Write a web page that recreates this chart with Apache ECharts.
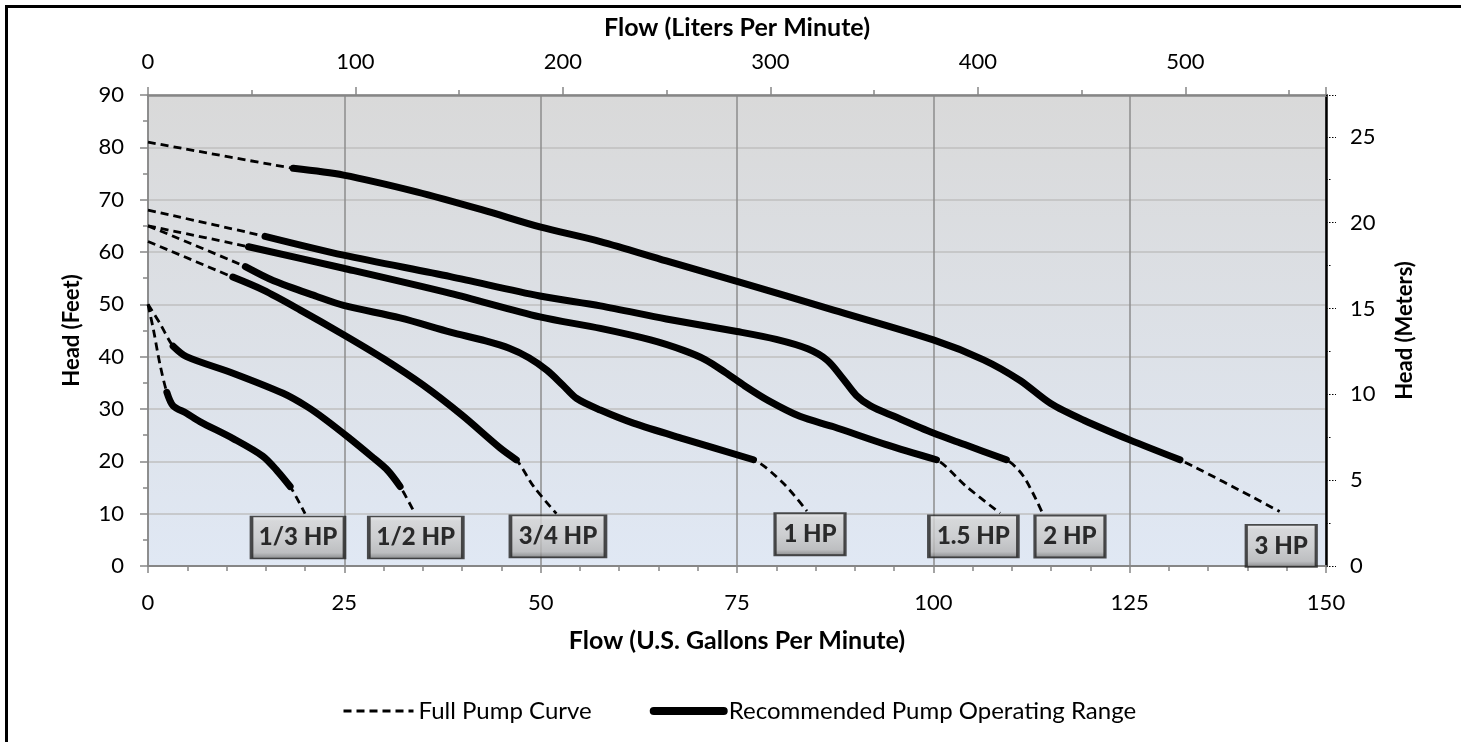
<!DOCTYPE html>
<html>
<head>
<meta charset="utf-8">
<script src="https://cdn.jsdelivr.net/npm/echarts@6/dist/echarts.min.js"></script>
<style>
html,body{margin:0;padding:0;background:#fff;overflow:hidden;}
#chart{width:1461px;height:742px;}
</style>
</head>
<body>
<div id="chart"></div>
<script>
// ---------- DATA (flow in US gpm, head in feet) ----------
const hp13 = [[0,50],[0.7,45.1],[1.5,38.7],[2.4,33.2],[3.2,30.6],[4.9,29.2],[6.6,27.6],[10.9,24.3],[14.6,21.0],[16.5,18.1],[18.1,15.2],[20.0,10.0]];
const hp13Range = [2.4, 18.1];
const hp12 = [[0,50],[1.5,46.4],[3.2,42.0],[4.9,40.0],[10.9,36.8],[17.2,33.0],[20.2,30.5],[22.5,28.1],[25.5,24.6],[28.5,20.9],[30.5,18.3],[32.1,15.2],[34.0,10.0]];
const hp12Range = [3.2, 32.1];
const hp34 = [[0,62],[10.8,55.2],[14.7,52.7],[19.4,48.9],[24.9,44.2],[30.0,39.6],[35.0,34.6],[40.0,28.8],[44.8,22.6],[46.9,20.3],[49.1,15.2],[52.0,10.0]];
const hp34Range = [10.8, 46.9];
const hp1 = [[0,65],[12.4,57.2],[16.0,54.5],[21.5,51.5],[24.9,49.8],[32.1,47.4],[38.5,44.7],[43.0,43.0],[46.0,41.6],[48.5,39.8],[50.8,37.4],[52.8,34.6],[54.6,32.0],[57.6,29.8],[61.8,27.3],[68.2,24.3],[77.1,20.3],[80.9,15.8],[83.9,10.5]];
const hp1Range = [12.4, 77.1];
const hp15 = [[0,65],[12.8,61.0],[24.9,56.9],[38.5,52.1],[49.9,47.6],[57.6,45.4],[64.0,43.2],[68.2,41.2],[71.0,39.4],[73.5,37.0],[76.0,34.4],[79.0,31.6],[83.0,28.6],[87.3,26.6],[94.0,23.2],[100.4,20.3],[104.2,15.2],[108.5,10.1]];
const hp15Range = [12.8, 100.4];
const hp2 = [[0,68],[14.9,63.0],[24.9,59.4],[38.5,55.3],[49.9,51.6],[57.6,49.7],[66.0,47.2],[75.0,44.8],[80.0,43.3],[84.0,41.5],[86.5,39.3],[88.5,35.8],[90.2,32.6],[92.0,30.6],[95.0,28.6],[100.0,25.4],[104.0,23.2],[109.3,20.3],[111.5,17.1],[113.9,10.1]];
const hp2Range = [14.9, 109.3];
const hp3 = [[0,81],[18.5,76.0],[24.9,74.7],[34.2,71.5],[42.7,68.0],[49.9,64.8],[57.6,62.0],[66.0,58.3],[75.0,54.4],[87.3,48.9],[100.0,43.2],[106.4,39.4],[111.0,35.5],[114.9,31.1],[119.1,27.9],[125.0,24.1],[131.4,20.3],[144.1,10.4]];
const hp3Range = [18.5, 131.4];

const hpLabels = ['1/3 HP','1/2 HP','3/4 HP','1 HP','1.5 HP','2 HP','3 HP'];
const hpLabelX = [19.1, 34.1, 52.2, 84.3, 105.1, 117.4, 144.3];
const hpLabelY = [5.45, 5.45, 5.65, 6.05, 5.65, 5.65, 3.85];

const gpmMax = 150, headMax = 90;
const litersPerGallon = 3.78541;
const metersPerFoot = 0.3048;

// ---------- STYLE ----------
const labelBoxWidths = [93, 94, 95, 70, 89, 70, 70];
const FONT = 'Lato, "Open Sans", sans-serif';
const DASH = [8, 5];

const curves = [
  [hp13, hp13Range],[hp12, hp12Range],[hp34, hp34Range],[hp1, hp1Range],
  [hp15, hp15Range],[hp2, hp2Range],[hp3, hp3Range]
];

const series = [];
curves.forEach(([pts]) => {
  series.push({
    name: 'Full Pump Curve', type: 'line', data: pts, symbol: 'none',
    smooth: 0.3, z: 2,
    itemStyle: { color: '#000' },
    lineStyle: { color: '#000', width: 2.8, type: DASH },
    xAxisIndex: 0, yAxisIndex: 0
  });
});
curves.forEach(([pts, rng]) => {
  series.push({
    name: 'Recommended Pump Operating Range', type: 'line',
    data: pts.filter(p => p[0] >= rng[0] - 1e-9 && p[0] <= rng[1] + 1e-9),
    symbol: 'none', smooth: 0.3, z: 3,
    itemStyle: { color: '#000' },
    lineStyle: { color: '#000', width: 7, cap: 'round', join: 'round' },
    xAxisIndex: 0, yAxisIndex: 0
  });
});
series.push({
  name: 'labels', type: 'scatter', z: 5, silent: true,
  xAxisIndex: 0, yAxisIndex: 0,
  data: hpLabels.map((t, i) => ({
    value: [hpLabelX[i], hpLabelY[i]],
    symbolSize: [labelBoxWidths[i], 42],
    label: { formatter: t }
  })),
  symbol: 'rect',
  itemStyle: {
    color: { type: 'linear', x: 0, y: 0, x2: 0, y2: 1, colorStops: [
      { offset: 0, color: '#f2f2f2' }, { offset: 0.12, color: '#d4d4d4' },
      { offset: 0.5, color: '#c9c9c9' }, { offset: 0.85, color: '#b4b4b4' },
      { offset: 1, color: '#6e6e6e' } ] },
    borderColor: '#222', borderWidth: 2.5
  },
  label: { show: true, position: 'inside', color: '#000', fontFamily: FONT, fontWeight: 900, fontSize: 24 }
});

const axisFont = { color: '#000', fontFamily: FONT, fontSize: 22 };
const hNameFont = { color: '#000', fontFamily: FONT, fontSize: 25, fontWeight: 'bold' };
const vNameFont = { color: '#000', fontFamily: FONT, fontSize: 22, fontWeight: 'bold' };

const option = {
  animation: false,
  grid: {
    left: 148, right: 135, top: 95, bottom: 176, show: true, borderWidth: 0,
    backgroundColor: { type: 'linear', x: 0, y: 0, x2: 0, y2: 1, colorStops: [
      { offset: 0, color: '#d9d9d9' }, { offset: 1, color: '#e0e8f4' } ] }
  },
  legend: {
    data: [
      { name: 'Full Pump Curve', itemStyle: { color: 'rgba(0,0,0,0)', borderWidth: 0 },
        lineStyle: { color: '#000', width: 3, type: DASH } },
      { name: 'Recommended Pump Operating Range', itemStyle: { color: 'rgba(0,0,0,0)', borderWidth: 0 },
        lineStyle: { color: '#000', width: 8, type: 'solid', cap: 'round' } }
    ],
    left: 337, top: 694, itemWidth: 70, itemHeight: 14, itemGap: 58,
    textStyle: { color: '#000', fontFamily: FONT, fontSize: 24 }
  },
  xAxis: [
    {
      type: 'value', position: 'bottom', min: 0, max: gpmMax, interval: 25,
      name: 'Flow (U.S. Gallons Per Minute)', nameLocation: 'middle', nameGap: 62,
      nameTextStyle: hNameFont,
      axisLine: { show: true, lineStyle: { color: '#868686', width: 2 } },
      axisTick: { show: true, length: 7, lineStyle: { color: '#868686', width: 1.5 } },
      minorTick: { show: true, splitNumber: 5, length: 5, lineStyle: { color: '#868686', width: 1.5 } },
      axisLabel: Object.assign({ margin: 26 }, axisFont),
      splitLine: { show: true, lineStyle: { color: '#8c8c8c', width: 1.5 } }
    },
    {
      type: 'value', position: 'top', min: 0, max: gpmMax * litersPerGallon, interval: 100,
      name: 'Flow (Liters Per Minute)', nameLocation: 'middle', nameGap: 55,
      nameTextStyle: hNameFont,
      axisLine: { show: true, onZero: false, lineStyle: { color: '#868686', width: 2.5 } },
      axisTick: { show: true, length: 8, lineStyle: { color: '#868686', width: 1.5 } },
      minorTick: { show: true, splitNumber: 2, length: 5, lineStyle: { color: '#868686', width: 1.5 } },
      axisLabel: Object.assign({ margin: 22, showMaxLabel: false }, axisFont),
      splitLine: { show: false }
    }
  ],
  yAxis: [
    {
      type: 'value', position: 'left', min: 0, max: headMax, interval: 10,
      name: 'Head (Feet)', nameLocation: 'middle', nameGap: 65, nameRotate: 90,
      nameTextStyle: vNameFont,
      axisLine: { show: true, lineStyle: { color: '#868686', width: 1.5 } },
      axisTick: { show: true, length: 8, lineStyle: { color: '#868686', width: 1.5 } },
      minorTick: { show: true, splitNumber: 2, length: 5, lineStyle: { color: '#868686', width: 1.5 } },
      axisLabel: Object.assign({ margin: 24 }, axisFont),
      splitLine: { show: true, lineStyle: { color: '#bfbfbf', width: 1.5 } }
    },
    {
      type: 'value', position: 'right', min: 0, max: headMax * metersPerFoot, interval: 5,
      name: 'Head (Meters)', nameLocation: 'middle', nameGap: 68, nameRotate: 90,
      nameTextStyle: vNameFont,
      axisLine: { show: true, onZero: false, lineStyle: { color: '#000', width: 2.5 } },
      axisTick: { show: true, length: 10, lineStyle: { color: '#000', width: 1, type: [1.5, 1.5] } },
      minorTick: { show: true, splitNumber: 2, length: 6, lineStyle: { color: '#000', width: 1, type: [1.5, 1.5] } },
      axisLabel: Object.assign({ margin: 24, showMaxLabel: false }, axisFont),
      splitLine: { show: false }
    }
  ],
  graphic: [{
    type: 'polyline', silent: true, z: 100,
    shape: { points: [[6.5, 760], [6.5, 6.5], [1480, 6.5]] },
    style: { stroke: '#000', lineWidth: 3, fill: null }
  }],
  series: series
};

const chart = echarts.init(document.getElementById('chart'), null, { renderer: 'canvas' });
chart.setOption(option);
</script>
</body>
</html>
